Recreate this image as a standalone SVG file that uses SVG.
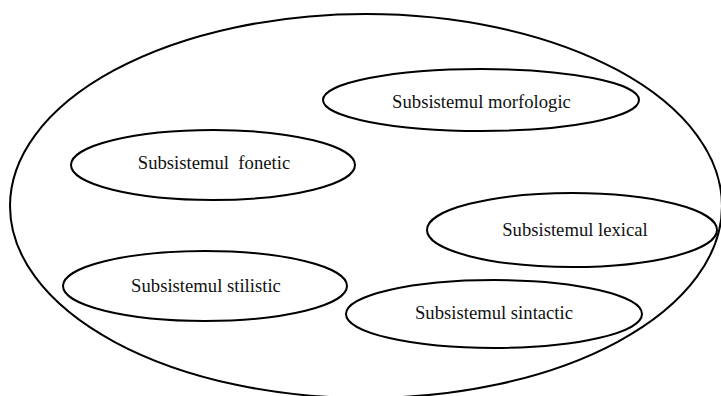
<svg xmlns="http://www.w3.org/2000/svg" width="721" height="396" viewBox="0 0 721 396">
<style>
.e{fill:none;stroke:#000;stroke-width:2}
.t{font-family:"Liberation Serif","Times New Roman",serif;font-size:18.67px;fill:#111;text-anchor:middle;white-space:pre}
</style>
<rect width="721" height="396" fill="#fff"/>
<g id="system"><ellipse class="e" cx="366" cy="206" rx="356" ry="192"/></g>
<g id="morfologic"><ellipse class="e" cx="481" cy="100" rx="158" ry="31"/><text class="t" x="481.5" y="108">Subsistemul morfologic</text></g>
<g id="fonetic"><ellipse class="e" cx="213" cy="165" rx="142" ry="35"/><text class="t" x="214" y="169" xml:space="preserve">Subsistemul  fonetic</text></g>
<g id="lexical"><ellipse class="e" cx="572" cy="230" rx="145" ry="37"/><text class="t" x="575" y="236">Subsistemul lexical</text></g>
<g id="stilistic"><ellipse class="e" cx="205" cy="286" rx="142" ry="35"/><text class="t" x="206" y="292">Subsistemul stilistic</text></g>
<g id="sintactic"><ellipse class="e" cx="494" cy="314" rx="148" ry="34"/><text class="t" x="494" y="319">Subsistemul sintactic</text></g>
<g id="connectors"/>
</svg>
